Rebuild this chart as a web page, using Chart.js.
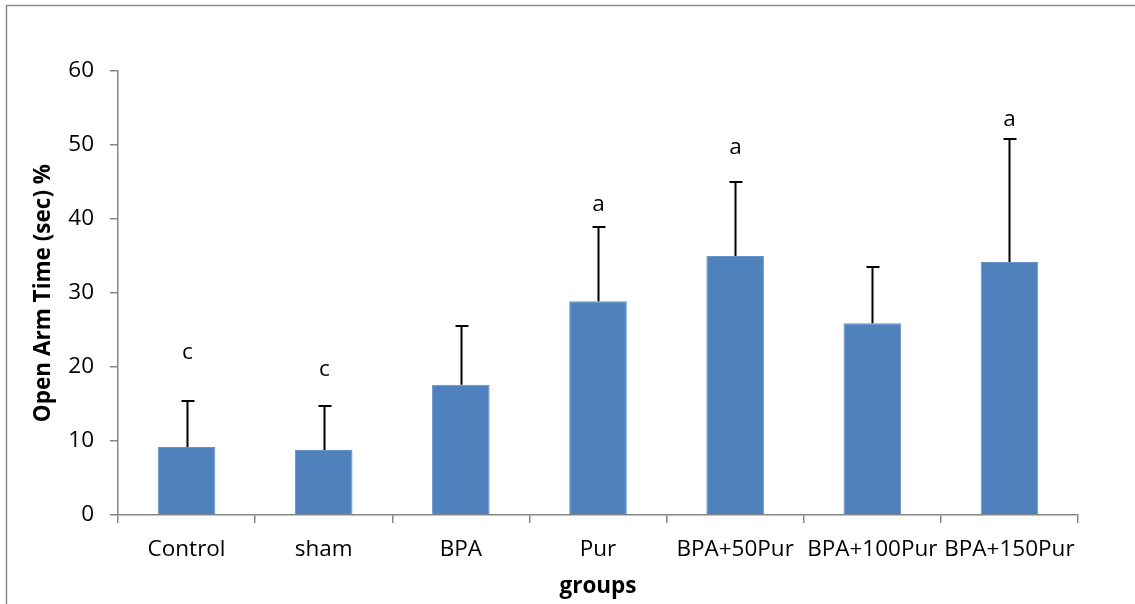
<!DOCTYPE html>
<html>
<head>
<meta charset="utf-8">
<script src="https://cdn.jsdelivr.net/npm/chart.js@4"></script>
<style>
  html, body { margin: 0; padding: 0; background: #fff; }
  #wrap { width: 1135px; height: 604px; }
</style>
</head>
<body>
<div id="wrap"><canvas id="openArmChart" width="1135" height="604"></canvas></div>
<script>
// groups on the x axis
const groups = ["Control", "sham", "BPA", "Pur", "BPA+50Pur", "BPA+100Pur", "BPA+150Pur"];
// mean open arm time (%)
const meanValues = [9.2, 8.8, 17.6, 28.9, 35.0, 25.9, 34.2];
// top of the error bar (mean + SD)
const errorTops = [15.4, 14.7, 25.6, 38.9, 45.0, 33.5, 50.8];
// significance letters and the value they sit at
const sigLetters = ["c", "c", "", "a", "a", "", "a"];
const sigLetterAt = [21.9, 19.6, null, 41.9, 49.7, null, 53.4];
// y axis ticks
const yTicks = [0, 10, 20, 30, 40, 50, 60];

const FONT = "'Open Sans', 'DejaVu Sans', sans-serif";
const FONT_SIZE = 22.5;

// draws the one-sided error bars and the letters above them
const errorBarPlugin = {
  id: "errorBars",
  afterDatasetsDraw(chart) {
    const ctx = chart.ctx;
    const meta = chart.getDatasetMeta(0);
    const y = chart.scales.y;
    ctx.save();
    ctx.strokeStyle = "#000";
    ctx.lineWidth = 2;
    meta.data.forEach((bar, i) => {
      const x = Math.round(bar.x) + 0.5;
      const yBase = y.getPixelForValue(meanValues[i]);
      const yTop = Math.round(y.getPixelForValue(errorTops[i]));
      ctx.beginPath();
      ctx.moveTo(x, yBase);
      ctx.lineTo(x, yTop);
      ctx.moveTo(x - 6, yTop);
      ctx.lineTo(x + 7, yTop);
      ctx.stroke();
      if (sigLetters[i]) {
        ctx.fillStyle = "#000";
        ctx.font = FONT_SIZE + "px " + FONT;
        ctx.textAlign = "center";
        ctx.textBaseline = "middle";
        ctx.fillText(sigLetters[i], x, y.getPixelForValue(sigLetterAt[i]));
      }
    });
    ctx.restore();
  },
};

// grey frame around the whole chart
const framePlugin = {
  id: "frame",
  afterDraw(chart) {
    const ctx = chart.ctx;
    ctx.save();
    ctx.strokeStyle = "#8c8c8c";
    ctx.lineWidth = 1.5;
    ctx.strokeRect(6.5, 5.5, 1140, 620);
    ctx.restore();
  },
};

new Chart("openArmChart", {
  type: "bar",
  data: {
    labels: groups,
    datasets: [
      {
        data: meanValues,
        backgroundColor: "#4F81BD",
        borderColor: "#6592c9",
        borderWidth: 1,
        barPercentage: 0.84,
        categoryPercentage: 0.5,
      },
    ],
  },
  options: {
    responsive: false,
    animation: false,
    layout: { padding: { left: 26, right: 57, top: 71, bottom: 0 } },
    plugins: { legend: { display: false }, tooltip: { enabled: false } },
    scales: {
      x: {
        grid: { offset: true, drawOnChartArea: false, color: "#868686", tickLength: 8, lineWidth: 1.5 },
        border: { color: "#868686", width: 1.5 },
        ticks: { color: "#000", font: { family: FONT, size: FONT_SIZE }, padding: 13, maxRotation: 0, autoSkip: false },
        title: { display: true, text: "groups", color: "#000", font: { family: FONT, size: FONT_SIZE, weight: "bold" }, padding: { top: 4 } },
        afterFit: (s) => { s.height = 89; },
      },
      y: {
        min: 0,
        max: 60,
        afterBuildTicks: (s) => { s.ticks = yTicks.map((v) => ({ value: v })); },
        grid: { drawOnChartArea: false, color: "#868686", tickLength: 8, lineWidth: 1.5 },
        border: { color: "#868686", width: 1.5 },
        ticks: { color: "#000", font: { family: FONT, size: FONT_SIZE }, padding: 16 },
        title: { display: true, text: "Open Arm Time (sec) %", color: "#000", font: { family: FONT, size: FONT_SIZE, weight: "bold" }, padding: { bottom: 4 } },
        afterFit: (s) => { s.width = 92; },
      },
    },
  },
  plugins: [errorBarPlugin, framePlugin],
});
</script>
</body>
</html>
